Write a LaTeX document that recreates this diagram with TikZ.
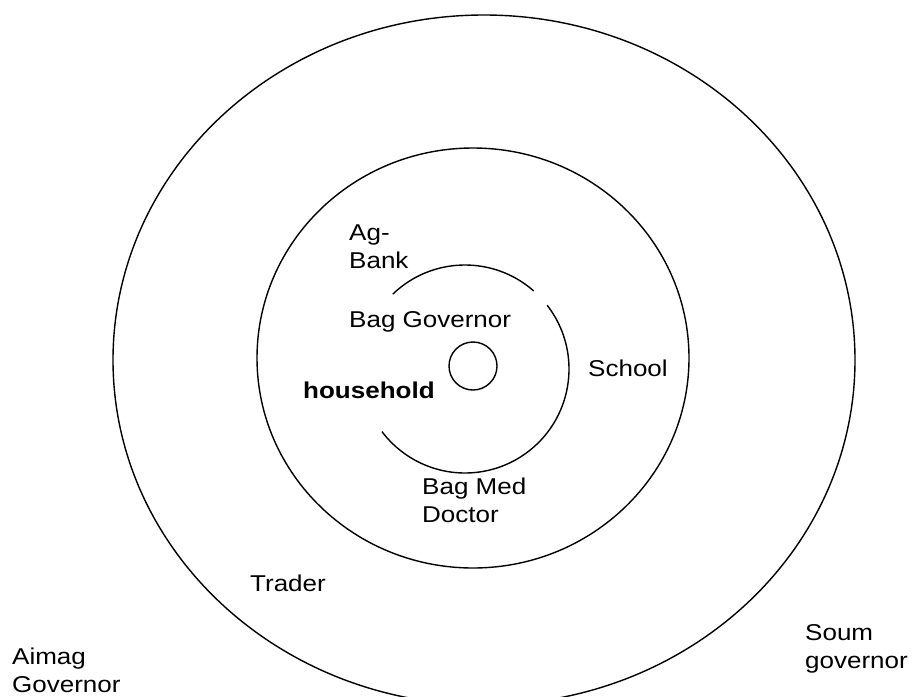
\documentclass[tikz,border=0pt]{standalone}
\usepackage{fontspec}
\setmainfont{Liberation Sans}
\begin{document}
\begin{tikzpicture}[x=1pt,y=1pt,
  ring/.style={draw=black,line width=1.4pt},
  lbl/.style={inner sep=0pt,anchor=base west,align=left,yscale=0.88,
    font=\fontsize{26}{31}\selectfont}]
\useasboundingbox (0,0) rectangle (912,-696);
% outer ellipse
\draw[ring] (484,-360) ellipse [x radius=371pt, y radius=345pt];
% middle circle
\draw[ring] (473,-358) ellipse [x radius=216pt, y radius=210pt];
% small inner circle
\draw[ring] (473,-366) circle [radius=24pt];
% broken inner circle
\coordinate (c) at (465,-369);
\draw[ring] ([shift={(134:104pt)}]c) arc[start angle=134, end angle=48.6, radius=104pt];
\draw[ring] ([shift={(37.8:104pt)}]c) arc[start angle=37.8, end angle=-143, radius=104pt];
% labels (base anchor = baseline of last line)
\node[lbl] (agbank) at (349,-268) {Ag-\\Bank};
\node[lbl] (baggov) at (349,-327) {Bag Governor};
\node[lbl,font=\fontsize{26}{31}\selectfont\bfseries] (hh) at (303,-398) {household};
\node[lbl] (school) at (588,-376) {School};
\node[lbl] (bagmed) at (422,-522) {Bag Med\\Doctor};
\node[lbl] (trader) at (250,-591) {Trader};
\node[lbl] (aimag) at (12,-692) {Aimag\\Governor};
\node[lbl] (soum) at (805,-668) {Soum\\governor};
\end{tikzpicture}
\end{document}
